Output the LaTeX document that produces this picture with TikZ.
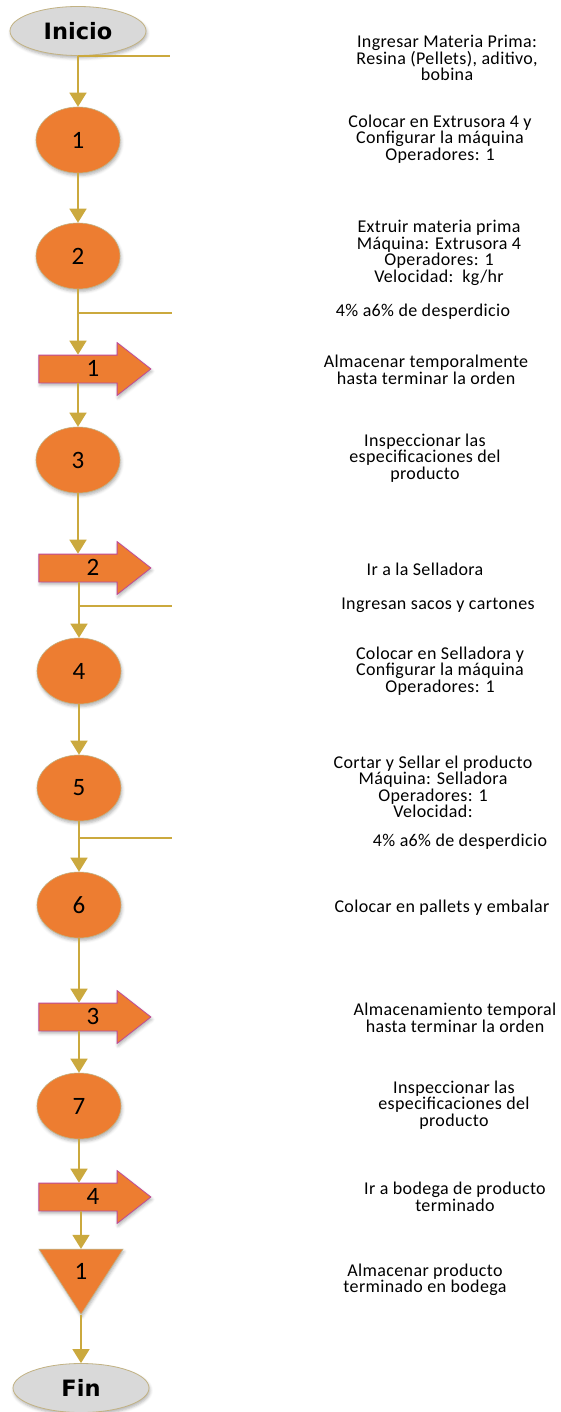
\documentclass[tikz,border=0pt]{standalone}
\usepackage{fontspec}
\setmainfont{Carlito}[LetterSpace=2]
\newfontfamily\capfont{DejaVu Sans}
\usetikzlibrary{shapes.geometric,shapes.arrows,arrows.meta,shadows.blur}

\definecolor{naranja}{HTML}{ED7D31}
\definecolor{borde}{HTML}{C2B283}
\definecolor{magenta}{HTML}{BE4B98}
\definecolor{oro}{HTML}{CBA93E}
\definecolor{gris}{HTML}{D9D9D9}

\begin{document}
\begin{tikzpicture}[x=1pt,y=-1pt,
	sombra/.style={blur shadow={shadow xshift=1pt,shadow yshift=-2.5pt,shadow blur radius=3pt,shadow opacity=30}},
	end_node/.style={ellipse,fill=gris,draw=borde,line width=0.8pt,minimum width=136pt,minimum height=49pt,inner sep=0pt,font=\capfont\bfseries\fontsize{22.5}{22.5}\selectfont,sombra},
	op_node/.style={ellipse,fill=naranja,draw=borde,line width=0.6pt,minimum width=84pt,minimum height=66pt,inner sep=0pt,font=\fontsize{25}{25}\selectfont,sombra},
	tr_node/.style={single arrow,single arrow head extend=12.5pt,single arrow tip angle=76,fill=naranja,draw=magenta,line width=0.8pt,minimum height=112pt,minimum width=52pt,text height=15pt,text depth=0pt,inner ysep=6pt,inner xsep=0pt,font=\fontsize{25}{25}\selectfont,sombra},
	st_node/.style={isosceles triangle,isosceles triangle stretches,shape border rotate=270,fill=naranja,draw=borde,line width=0.6pt,minimum width=84pt,minimum height=65pt,inner sep=0pt,font=\fontsize{25}{25}\selectfont,sombra},
	txt/.style={align=center,inner sep=0pt,font=\fontsize{18}{16.5}\selectfont},
	flow/.style={draw=oro,line width=1.6pt,-{Triangle[width=17pt,length=14pt]}},
	side/.style={draw=oro,line width=2pt}]

	\useasboundingbox (0,0) rectangle (560,1412);

	% columna del proceso
	\node[end_node] (ini) at (78,31) {Inicio};
	\node[op_node] (o1) at (78,140) {1};
	\node[op_node] (o2) at (78,256) {2};
	\node[tr_node] (a1) at (86,369) {\kern14pt 1};
	\node[op_node] (o3) at (78,460) {3};
	\node[tr_node] (a2) at (86,568) {\kern14pt 2};
	\node[op_node] (o4) at (79,671) {4};
	\node[op_node] (o5) at (79,788) {5};
	\node[op_node] (o6) at (79,905) {6};
	\node[tr_node] (a3) at (86,1017) {\kern14pt 3};
	\node[op_node] (o7) at (79,1106) {7};
	\node[tr_node] (a4) at (86,1197) {\kern14pt 4};
	\node[st_node] (s1) at (81,1271) {1};
	\node[end_node] (fin) at (81,1388) {Fin};

	% entradas y salidas laterales
	\coordinate (k0) at (170,57);
	\coordinate (j1) at (78,313);
	\coordinate (k1) at (172,313);
	\coordinate (j2) at (79,606);
	\coordinate (k2) at (172,606);
	\coordinate (j3) at (79,838);
	\coordinate (k3) at (172,838);

	\draw[side] (ini.south) -- (ini.south -| k0);
	\draw[side] (j1) -- (k1);
	\draw[side] (j2) -- (k2);
	\draw[side] (j3) -- (k3);

	\draw[flow] (ini) -- (o1);
	\draw[flow] (o1) -- (o2);
	\draw[flow] (o2) -- (o2 |- a1.north);
	\draw[flow] (a1.south -| o3) -- (o3);
	\draw[flow] (o3) -- (o3 |- a2.north);
	\draw[flow] (a2.south -| o4) -- (o4);
	\draw[flow] (o4) -- (o5);
	\draw[flow] (o5) -- (o6);
	\draw[flow] (o6) -- (o6 |- a3.north);
	\draw[flow] (a3.south -| o7) -- (o7);
	\draw[flow] (o7) -- (o7 |- a4.north);
	\draw[flow] (a4.south -| s1) -- (s1);
	\draw[flow] (s1) -- (fin);

	% descripciones
	\node[txt] (t1) at (447,58) {Ingresar Materia Prima:\\Resina (Pellets), aditivo,\\bobina};
	\node[txt] (t2) at (440,139) {Colocar en Extrusora 4 y\\Configurar la máquina\\Operadores: 1};
	\node[txt] (t3) at (439,253) {Extruir materia prima\\Máquina: Extrusora 4\\Operadores: 1\\Velocidad:\ \ kg/hr};
	\node[txt] (t4) at (423,312) {4\% a6\% de desperdicio};
	\node[txt] (t5) at (426,370) {Almacenar temporalmente\\hasta terminar la orden};
	\node[txt] (t6) at (425,458) {Inspeccionar las\\especificaciones del\\producto};
	\node[txt] (t7) at (425,569) {Ir a la Selladora};
	\node[txt] (t8) at (438,605) {Ingresan sacos y cartones};
	\node[txt] (t9) at (440,671) {Colocar en Selladora y\\Configurar la máquina\\Operadores: 1};
	\node[txt] (t10) at (433,787) {Cortar y Sellar el producto\\Máquina: Selladora\\Operadores: 1\\Velocidad:};
	\node[txt] (t11) at (460,842) {4\% a6\% de desperdicio};
	\node[txt] (t12) at (442,908) {Colocar en pallets y embalar};
	\node[txt] (t13) at (455,1018) {Almacenamiento temporal\\hasta terminar la orden};
	\node[txt] (t14) at (454,1105) {Inspeccionar las\\especificaciones del\\producto};
	\node[txt] (t15) at (455,1197) {Ir a bodega de producto\\terminado};
	\node[txt] (t16) at (425,1280) {Almacenar producto\\terminado en bodega};
\end{tikzpicture}
\end{document}
